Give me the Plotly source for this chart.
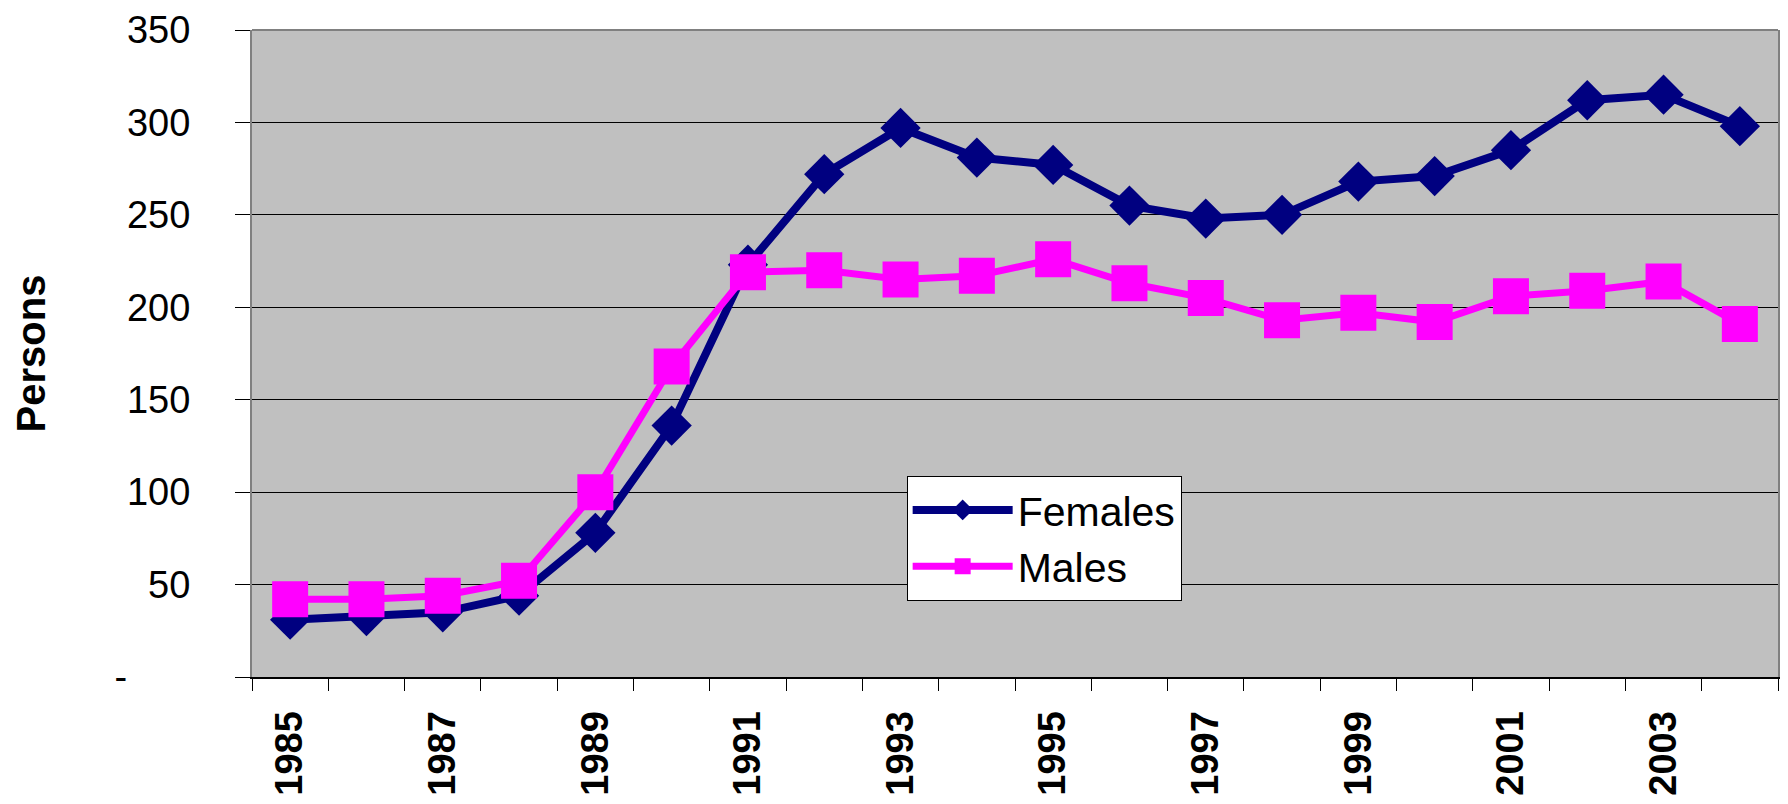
import plotly.graph_objects as go

years = list(range(1985, 2005))
females = [31, 33, 35, 44, 78, 136, 223, 272, 297, 281, 277, 255, 248, 250, 268, 271, 285, 312, 315, 298]
males = [42, 42, 44, 52, 100, 168, 219, 220, 215, 217, 226, 213, 205, 193, 197, 192, 206, 209, 214, 191]

y_tick_vals = [0, 50, 100, 150, 200, 250, 300, 350]
y_tick_text = ["-" + "\u00a0" * 6, "50", "100", "150", "200", "250", "300", "350"]
x_label_years = [1985, 1987, 1989, 1991, 1993, 1995, 1997, 1999, 2001, 2003]
x_label_text = [str(y) for y in x_label_years]
x_boundaries = [y - 0.5 for y in years] + [years[-1] + 0.5]

FONT = "Arial, 'Liberation Sans', sans-serif"

fig = go.Figure()
fig.add_trace(go.Scatter(
    x=years, y=females, name="Females", mode="lines+markers",
    line=dict(color="#000080", width=8),
    marker=dict(symbol="diamond", size=31, color="#000080"),
))
fig.add_trace(go.Scatter(
    x=years, y=males, name="Males", mode="lines+markers",
    line=dict(color="#FF00FF", width=7),
    marker=dict(symbol="square", size=36, color="#FF00FF"),
))

fig.update_layout(
    width=1772, height=788,
    margin=dict(l=244, r=2, t=22, b=119),
    paper_bgcolor="white",
    plot_bgcolor="#C0C0C0",
    font=dict(family=FONT, color="black"),
    showlegend=True,
    legend=dict(
        x=0.429, y=0.311, xanchor="left", yanchor="top",
        bgcolor="white", bordercolor="black", borderwidth=1,
        font=dict(size=41, family=FONT),
        itemwidth=100,
    ),
    xaxis=dict(
        range=[1984.5, 2004.5],
        automargin=False,
        tickmode="array", tickvals=x_label_years, ticktext=x_label_text,
        tickangle=-90,
        tickfont=dict(size=38, family=FONT, weight="bold"),
        ticks="outside", ticklen=12, tickcolor="rgba(0,0,0,0)",
        ticklabelstandoff=5,
        ticklabeloverflow="allow",
        showgrid=False, zeroline=False,
        showline=True, linecolor="black", linewidth=2,
        minor=dict(tickmode="array", tickvals=x_boundaries, ticks="outside",
                   ticklen=12, tickcolor="black", tickwidth=1, showgrid=False),
    ),
    yaxis=dict(
        range=[0, 350],
        automargin=False,
        tickmode="array", tickvals=y_tick_vals, ticktext=y_tick_text,
        tickfont=dict(size=38, family=FONT),
        ticks="outside", ticklen=15, tickcolor="black", tickwidth=1,
        ticklabelstandoff=37,
        ticklabeloverflow="allow",
        showgrid=True, gridcolor="black", gridwidth=1,
        zeroline=False,
        showline=True, linecolor="#808080", linewidth=2, mirror=True,
        title=dict(text="<b>Persons</b>", font=dict(size=40, family=FONT), standoff=56),
    ),
    shapes=[dict(type="line", xref="paper", yref="paper", x0=0, x1=1, y0=1, y1=1,
                 line=dict(color="#808080", width=2), layer="between")],
)
fig.write_html("out.html")
